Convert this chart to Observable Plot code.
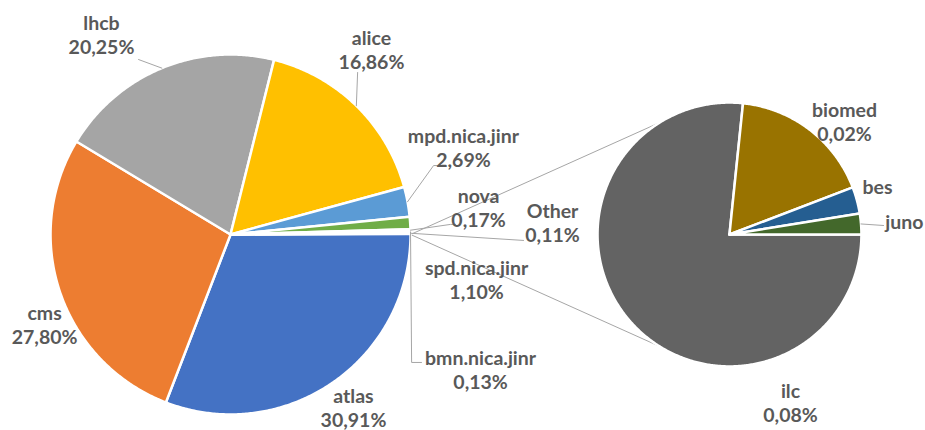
<!DOCTYPE html>
<html>
<head>
<meta charset="utf-8">
<script src="https://cdn.jsdelivr.net/npm/d3@7"></script>
<script src="https://cdn.jsdelivr.net/npm/@observablehq/plot@0.6"></script>
<style>
  html, body { margin: 0; padding: 0; background: #ffffff; }
  #chart svg { display: block; }
</style>
</head>
<body>
<div id="chart"></div>
<script>
// ---------- data ----------
const mainNames  = ["atlas", "cms", "lhcb", "alice", "mpd.nica.jinr", "spd.nica.jinr", "nova", "bmn.nica.jinr", "Other"];
const mainValues = [30.91, 27.80, 20.25, 16.86, 2.69, 1.10, 0.17, 0.13, 0.11];
const mainPct    = ["30,91%", "27,80%", "20,25%", "16,86%", "2,69%", "1,10%", "0,17%", "0,13%", "0,11%"];
const mainColors = ["#4472C4", "#ED7D31", "#A5A5A5", "#FFC000", "#5B9BD5", "#70AD47", "#264478", "#9E480E", "#7F7F7F"];

const otherNames  = ["ilc", "biomed", "bes", "juno"];
const otherValues = [0.0843, 0.0193, 0.0036, 0.0028];
const otherPct    = ["0,08%", "0,02%", "", ""];
const otherColors = ["#636363", "#997300", "#255E91", "#43682B"];

// ---------- layout (chart units: main pie radius = 1) ----------
const C1 = [0, 0], R1 = 1;
const C2 = [2.772, 0], R2 = 0.733;
const connectorAngle = 122; // degrees where connector lines meet the secondary pie

// label anchors and leader start points (chart units)
const mainLabelLayout = [
  {name: "lhcb",          x: -0.717, y: 1.114, leader: [[-0.511, 0.972]]},
  {name: "alice",         x:  0.783, y: 1.028, leader: [[0.706, 0.900]]},
  {name: "mpd.nica.jinr", x:  1.294, y: 0.483, leader: [[1.150, 0.383], [1.128, 0.383]]},
  {name: "nova",          x:  1.378, y: 0.150, leader: [[1.250, 0.056], [1.222, 0.056]]},
  {name: "Other",         x:  1.789, y: 0.069, leader: [[1.628, -0.033]]},
  {name: "spd.nica.jinr", x:  1.367, y: -0.250, leader: null},
  {name: "bmn.nica.jinr", x:  1.389, y: -0.747, leader: [[1.061, -0.711], [1.006, -0.711]]},
  {name: "atlas",         x:  0.683, y: -0.962, leader: null},
  {name: "cms",           x: -1.033, y: -0.500, leader: null}
];
const otherLabelLayout = [
  {name: "ilc",    x: 3.111, y: -0.931, leader: null},
  {name: "biomed", x: 3.411, y: 0.631, leader: null},
  {name: "bes",    x: 3.594, y: 0.267, leader: null},
  {name: "juno",   x: 3.744, y: 0.075, leader: [[3.628, 0.050]]}
];

// ---------- geometry helpers ----------
const rad = d => d * Math.PI / 180;
const pt = (c, r, a) => [c[0] + r * Math.cos(a), c[1] - r * Math.sin(a)]; // a: clockwise from east

function makeSlices(names, values, colors, pcts, c, r, start) {
  const total = d3.sum(values);
  let a = start;
  return names.map((n, i) => {
    const a0 = a;
    a += values[i] / total * 2 * Math.PI;
    return {name: n, a0, a1: a, mid: (a0 + a) / 2, color: colors[i], pct: pcts[i], c, r};
  });
}

const mainStart = -(mainValues[mainValues.length - 1] / d3.sum(mainValues)) * Math.PI;
const mainSlices = makeSlices(mainNames, mainValues, mainColors, mainPct, C1, R1, mainStart);
const otherSlices = makeSlices(otherNames, otherValues, otherColors, otherPct, C2, R2, 0);

function polygonRows(slices) {
  const rows = [];
  for (const s of slices) {
    const n = Math.max(2, Math.ceil((s.a1 - s.a0) / rad(0.5)));
    rows.push({key: s.name, color: s.color, x: s.c[0], y: s.c[1]});
    for (let k = 0; k <= n; k++) {
      const [x, y] = pt(s.c, s.r, s.a0 + (s.a1 - s.a0) * k / n);
      rows.push({key: s.name, color: s.color, x, y});
    }
    rows.push({key: s.name, color: s.color, x: s.c[0], y: s.c[1]});
  }
  return rows;
}

function labelRows(slices, layout) {
  return layout.map(l => {
    const s = slices.find(d => d.name === l.name);
    return {x: l.x, y: l.y, text: s.pct ? `${s.name}\n${s.pct}` : s.name};
  });
}

function leaderRows(slices, layout) {
  const rows = [];
  for (const l of layout) {
    if (!l.leader) continue;
    const s = slices.find(d => d.name === l.name);
    const pts = [...l.leader, pt(s.c, s.r, s.mid)];
    pts.forEach(([x, y]) => rows.push({key: l.name, x, y}));
  }
  return rows;
}

const connectorRows = [
  {key: "up",   x: pt(C1, R1, 0)[0], y: pt(C1, R1, 0)[1]},
  {key: "up",   x: pt(C2, R2, rad(-connectorAngle))[0], y: pt(C2, R2, rad(-connectorAngle))[1]},
  {key: "down", x: pt(C1, R1, 0)[0], y: pt(C1, R1, 0)[1]},
  {key: "down", x: pt(C2, R2, rad(connectorAngle))[0], y: pt(C2, R2, rad(connectorAngle))[1]}
];

const textStyle = {
  fontSize: 19.5, fontWeight: "bold", fill: "#595959",
  fontFamily: "Lato, 'Open Sans', 'DejaVu Sans', sans-serif",
  lineHeight: 1.23, lineAnchor: "middle", textAnchor: "middle"
};

const chart = Plot.plot({
  width: 925,
  height: 430,
  margin: 0,
  x: {domain: [-1.278, 3.861], axis: null},
  y: {domain: [-1.089, 1.3], axis: null},
  color: {type: "identity"},
  marks: [
    Plot.line(connectorRows, {x: "x", y: "y", z: "key", stroke: "#A6A6A6", strokeWidth: 1}),
    Plot.line(polygonRows(mainSlices), {x: "x", y: "y", z: "key", fill: "color", stroke: "white", strokeWidth: 2.5, strokeLinejoin: "round", curve: "linear"}),
    Plot.line(polygonRows(otherSlices), {x: "x", y: "y", z: "key", fill: "color", stroke: "white", strokeWidth: 2.5, strokeLinejoin: "round", curve: "linear"}),
    Plot.line(leaderRows(mainSlices, mainLabelLayout), {x: "x", y: "y", z: "key", stroke: "#A6A6A6", strokeWidth: 1}),
    Plot.line(leaderRows(otherSlices, otherLabelLayout), {x: "x", y: "y", z: "key", stroke: "#A6A6A6", strokeWidth: 1}),
    Plot.text(labelRows(mainSlices, mainLabelLayout), {x: "x", y: "y", text: "text", ...textStyle}),
    Plot.text(labelRows(otherSlices, otherLabelLayout), {x: "x", y: "y", text: "text", ...textStyle})
  ]
});
document.getElementById("chart").appendChild(chart);
</script>
</body>
</html>
